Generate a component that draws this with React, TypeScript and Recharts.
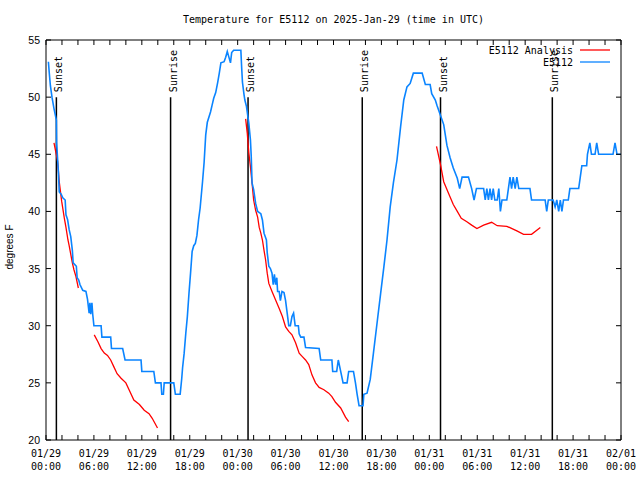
import React from 'react';
import { LineChart, Line, XAxis, YAxis, ReferenceLine, Legend } from 'recharts';

const MONO = '"DejaVu Sans Mono", monospace';
const SANS = '"Liberation Sans", Arial, sans-serif';

const chartTitle = 'Temperature for E5112 on 2025-Jan-29 (time in UTC)';
const dayLabels = ['01/29', '01/30', '01/31', '02/01'];
const hourTicks = Array.from({ length: 37 }, (_, i) => i * 2);
const tempTicks = [20, 25, 30, 35, 40, 45, 50, 55];
const seriesNames = ['E5112 Analysis', 'E5112'];

// observed station temps (hours since 01/29 00:00 UTC)
const obsHours = [
  0.3, 0.4, 0.55, 0.75, 1.0, 1.3, 1.33, 1.46, 1.55, 1.66, 1.9, 2.1, 2.4, 2.5, 2.7, 2.9, 3.1, 3.3, 3.4, 3.8,
  3.9, 4.1, 4.25, 4.6, 5.0, 5.2, 5.4, 5.5, 5.6, 5.75, 5.85, 6.0, 6.9, 7.0, 8.1, 8.2, 9.6, 9.9, 11.9, 12.0,
  13.5, 13.7, 14.4, 14.5, 14.7, 14.8, 16.0, 16.2, 16.8, 17.0, 17.1, 17.3, 17.5, 17.7, 17.9, 18.1, 18.3, 18.5, 18.7, 18.9,
  19.1, 19.3, 19.6, 19.8, 20.0, 20.2, 20.6, 20.8, 21.0, 21.25, 21.5, 21.7, 21.9, 22.3, 22.5, 22.7, 22.9, 23.1, 23.25, 23.5,
  24.4, 24.5, 24.6, 24.8, 24.9, 25.1, 25.4, 25.6, 25.7, 25.8, 26.0, 26.25, 26.5, 26.9, 27.1, 27.3, 27.6, 27.7, 27.9, 28.1,
  28.3, 28.45, 28.6, 28.75, 28.9, 29.0, 29.2, 29.35, 29.55, 29.8, 30.0, 30.2, 30.4, 30.6, 30.8, 31.0, 31.2, 31.6, 31.7, 31.9,
  32.3, 32.5, 34.2, 34.4, 35.8, 35.9, 36.4, 36.6, 36.9, 37.2, 37.7, 37.9, 38.5, 38.75, 38.96, 39.2, 39.7, 39.8, 40.2, 40.6,
  41.0, 41.5, 41.9, 42.3, 42.7, 43.1, 43.5, 43.95, 44.4, 44.8, 45.2, 45.6, 46.0, 47.1, 47.5, 48.1, 48.3, 48.75, 48.95, 49.4,
  49.8, 50.2, 50.6, 51.0, 51.5, 51.8, 52.1, 52.9, 53.3, 53.6, 53.9, 54.8, 55.0, 55.2, 55.4, 55.6, 55.8, 56.0, 56.2, 56.5,
  56.7, 56.9, 57.1, 57.7, 57.9, 58.1, 58.3, 58.5, 58.75, 58.96, 59.2, 60.6, 60.8, 62.5, 62.7, 62.9, 63.5, 63.75, 63.96, 64.2,
  64.4, 64.6, 64.8, 65.4, 65.6, 66.7, 66.9, 67.1, 67.7, 67.8, 68.1, 68.3, 68.75, 68.96, 69.2, 71.0, 71.25, 71.5, 72,
];
const obsTemps = [
  53.1, 52.2, 51, 50, 49, 48, 46, 44.5, 43.5, 41.7, 41.5, 41.2, 41, 39.7, 39.3, 38.4, 37.8, 36.6, 35.5, 35.2,
  34.2, 34, 33.6, 33.1, 33, 32.3, 31.1, 32, 31, 32, 31, 30, 30, 29, 29, 28, 28, 27, 27, 26,
  26, 25, 25, 24, 24, 25, 25, 24, 24, 25.4, 26.3, 27.6, 29.3, 30.8, 32.8, 34.6, 36.5, 37, 37.2, 37.9,
  39.25, 40.3, 42.6, 44.3, 46.7, 47.8, 48.7, 49.3, 49.9, 50.4, 51.3, 52.1, 53, 53.1, 53.5, 54, 53.5, 53, 53.9, 54.1,
  54.1, 52.6, 51.3, 50.2, 49.75, 49.2, 47.7, 46.25, 44.8, 42.5, 41.9, 40.7, 40, 39.8, 39.25, 38.1, 37.5, 36.4, 35.2, 35,
  34.6, 33.6, 34.5, 33.6, 34.2, 33, 33, 32.2, 33, 32.9, 32.2, 31.1, 30, 30, 30.8, 31.1, 30, 30, 29.3, 29,
  29, 28.1, 28, 27, 27, 26, 26, 27, 26, 25, 25, 26, 26, 25, 24, 23, 23, 24, 24.1, 25.3,
  27.6, 30.5, 32.8, 35.1, 37.5, 40.4, 42.5, 44.5, 47.4, 49.75, 50.9, 51.2, 52.1, 52.1, 51.1, 51.1, 50.3, 49.75, 49.3, 48.4,
  47.6, 45.8, 44.7, 43.8, 42.9, 42, 43, 43, 42, 41, 42, 42, 41, 42, 41, 42, 41, 42, 41, 41,
  42, 40, 41, 41, 42, 43, 42, 43, 42, 43, 42, 42, 41, 41, 40, 41, 41, 40.4, 41, 40,
  41, 40, 41, 41, 42, 42, 43, 44, 44, 45, 46, 45, 45, 46, 45, 45, 46, 45, 45,
];

// analysis temps, null = gap between runs
const anaHours = [
  1.0, 1.45, 1.66, 1.96, 2.3, 2.5, 2.75, 2.9, 3.3, 3.5, 3.75, 4.05, 5.0,
  6.04, 6.5, 6.9, 7.3, 7.7, 8.1, 8.5, 8.9, 9.4, 10.0, 10.4, 11.0, 11.7, 12.3, 12.9, 13.3, 13.96, 20.0,
  25.0, 25.2, 25.4, 25.6, 25.8, 26.0, 26.25, 26.5, 26.7, 26.9, 27.1, 27.3, 27.5, 27.7, 27.9, 28.3, 28.75, 29.2, 29.6,
  30.0, 30.4, 30.8, 31.25, 31.7, 32.1, 32.5, 32.9, 33.3, 33.75, 34.2, 34.8, 35.4, 35.8, 36.25, 36.9, 37.5, 37.9, 45.0,
  48.9, 49.4, 49.8, 50.4, 51.0, 51.5, 52.0, 52.7, 53.3, 53.96, 54.8, 55.8, 56.5, 57.7, 58.96, 59.8, 60.8, 61.9,
];
const anaTemps = [
  46, 44.4, 42.6, 40.9, 39.4, 38.6, 37.5, 37, 35.5, 34.9, 34.3, 33.3, null,
  29.2, 28.6, 28, 27.6, 27.4, 27, 26.4, 25.8, 25.4, 25, 24.4, 23.5, 23.1, 22.6, 22.3, 21.9, 21.05, null,
  48.1, 46.85, 45.1, 43.9, 42.5, 41, 40.1, 39.5, 38.6, 38.1, 37.5, 36.6, 35.75, 34.6, 33.7, 33, 32.25, 31.5, 30.8,
  29.9, 29.5, 29.2, 28.5, 27.6, 27.3, 27, 26.6, 25.7, 25, 24.6, 24.4, 24.1, 23.8, 23.3, 22.8, 22, 21.6, null,
  45.7, 44.1, 42.6, 41.6, 40.6, 40, 39.4, 39.1, 38.8, 38.5, 38.8, 39.05, 38.75, 38.7, 38.3, 38, 38, 38.6,
];

const sunHours = [1.3, 15.6, 25.3, 39.6, 49.4, 63.4];
const sunLabels = ['Sunset', 'Sunrise', 'Sunset', 'Sunrise', 'Sunset', 'Sunrise'];

const obsData = obsHours.map((h, i) => ({ hour: h, temp: obsTemps[i] }));
const anaData = anaHours.map((h, i) => ({ hour: h, temp: anaTemps[i] }));

const BottomTick = ({ x, y, payload }: any) => {
  const h = payload.value;
  const show = h % 6 === 0;
  const day = dayLabels[Math.floor(h / 24)];
  const time = String(h % 24).padStart(2, '0') + ':00';
  return (
    <g>
      <line x1={x} y1={y} x2={x} y2={y - 5} stroke="#000" />
      {show && (
        <text x={x} y={y + 17} textAnchor="middle" fontFamily={MONO} fontSize={10} fill="#000">
          <tspan x={x}>{day}</tspan>
          <tspan x={x} dy={13}>{time}</tspan>
        </text>
      )}
    </g>
  );
};

const TopTick = ({ x, y }: any) => <line x1={x} y1={y} x2={x} y2={y + 5} stroke="#000" />;

const LeftTick = ({ x, y, payload }: any) => (
  <g>
    <line x1={x} y1={y} x2={x + 5} y2={y} stroke="#000" />
    <text x={x - 6} y={y} dy={4} textAnchor="end" fontFamily={SANS} fontSize={10.5} fill="#000">
      {payload.value}
    </text>
  </g>
);

const RightTick = ({ x, y }: any) => <line x1={x} y1={y} x2={x - 5} y2={y} stroke="#000" />;

const LegendBox = ({ payload }: any) => {
  // keep gnuplot's plotting order in the key
  const items = [...(payload || [])].sort(
    (a: any, b: any) => seriesNames.indexOf(a.value) - seriesNames.indexOf(b.value)
  );
  return (
    <div style={{ fontFamily: MONO, fontSize: 10, color: '#000' }}>
      {items.map((p: any) => (
        <div key={p.value} style={{ display: 'flex', justifyContent: 'flex-end', alignItems: 'center', height: 12 }}>
          <span>{p.value}</span>
          <svg width={30} height={12} style={{ marginLeft: 7 }}>
            <line x1={0} y1={6} x2={30} y2={6} stroke={p.color} strokeWidth={1.3} />
          </svg>
        </div>
      ))}
    </div>
  );
};

const sunLabel = (text: string) => (props: any) => {
  const vb = props.viewBox || {};
  return (
    <text
      transform={`translate(${vb.x + 6}, ${vb.y - 5}) rotate(-90)`}
      textAnchor="start"
      fontFamily={MONO}
      fontSize={10}
      fill="#000"
    >
      {text}
    </text>
  );
};

export default function App() {
  return (
    <div style={{ position: 'absolute', left: 0, top: 0, width: 640, height: 480, background: '#fff' }}>
      <div
        style={{
          position: 'absolute', top: 14, left: 46, width: 575, textAlign: 'center',
          fontFamily: MONO, fontSize: 10, lineHeight: '12px', color: '#000',
        }}
      >
        {chartTitle}
      </div>
      <LineChart width={640} height={480} margin={{ top: 0, right: 0, bottom: 0, left: 0 }}>
        <XAxis
          xAxisId="bottom" dataKey="hour" type="number" domain={[0, 72]} ticks={hourTicks} interval={0}
          height={40} tickSize={0} tickMargin={0} tickLine={false} tick={<BottomTick />}
          axisLine={{ stroke: '#000' }} allowDataOverflow
        />
        <XAxis
          xAxisId="top" orientation="top" dataKey="hour" type="number" domain={[0, 72]} ticks={hourTicks} interval={0}
          height={40} tickSize={0} tickMargin={0} tickLine={false} tick={<TopTick />}
          axisLine={{ stroke: '#000' }} allowDataOverflow
        />
        <YAxis
          yAxisId="left" type="number" domain={[20, 55]} ticks={tempTicks} interval={0} width={46}
          tickSize={0} tickMargin={0} tickLine={false} tick={<LeftTick />} axisLine={{ stroke: '#000' }}
          allowDataOverflow
          label={{
            content: (p: any) => {
              const vb = p.viewBox || { y: 40, height: 400 };
              return (
                <text
                  transform={`translate(13, ${vb.y + vb.height / 2 + 7}) rotate(-90)`}
                  textAnchor="middle" fontFamily={SANS} fontSize={10} fill="#000"
                >
                  degrees F
                </text>
              );
            },
          }}
        />
        <YAxis
          yAxisId="right" orientation="right" type="number" domain={[20, 55]} ticks={tempTicks} interval={0}
          width={19} tickSize={0} tickMargin={0} tickLine={false} tick={<RightTick />}
          axisLine={{ stroke: '#000' }} allowDataOverflow
        />
        {sunHours.map((h, i) => (
          <ReferenceLine
            key={i}
            xAxisId="bottom"
            yAxisId="left"
            segment={[{ x: h, y: 20 }, { x: h, y: 50 }]}
            stroke="#000"
            strokeWidth={1.5}
            label={sunLabel(sunLabels[i])}
          />
        ))}
        <Line
          xAxisId="bottom" yAxisId="left" data={anaData} dataKey="temp" name={seriesNames[0]}
          type="linear" stroke="#ff0000" strokeWidth={1.3} dot={false} isAnimationActive={false}
        />
        <Line
          xAxisId="bottom" yAxisId="left" data={obsData} dataKey="temp" name={seriesNames[1]}
          type="linear" stroke="#0a84ff" strokeWidth={1.6} dot={false} isAnimationActive={false}
        />
        <Legend
          layout="horizontal" align="center" verticalAlign="middle"
          wrapperStyle={{ left: 420, top: 44, width: 190 }}
          content={<LegendBox />}
        />
      </LineChart>
    </div>
  );
}
